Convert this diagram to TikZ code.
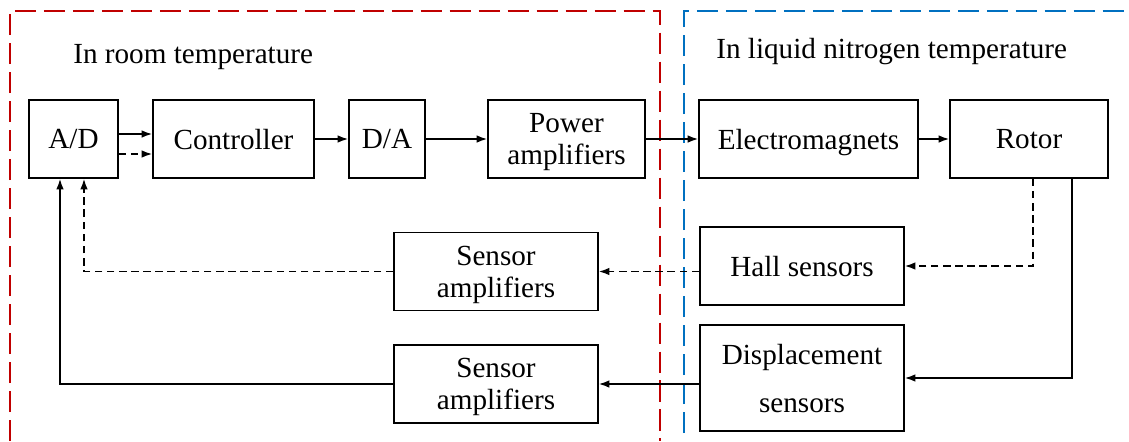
\documentclass[tikz,border=0pt]{standalone}
\usepackage{fontspec}
\setmainfont{Liberation Serif}
\usetikzlibrary{arrows.meta}
\definecolor{roomred}{RGB}{192,0,0}
\definecolor{lnblue}{RGB}{0,112,192}

\begin{document}
\begin{tikzpicture}[x=0.02cm,y=-0.02cm,font=\fontsize{16.6}{18.2}\selectfont,
  blk/.style={draw,line width=0.9pt,align=center,inner sep=0pt,text depth=0pt,minimum height=1.56cm},
  arr/.style={-{Latex[length=2.1mm,width=1.5mm]},line width=0.9pt},
  dsh/.style={dash pattern=on 4.3pt off 2.6pt},
  zone/.style={line width=1.5pt,dash pattern=on 12pt off 4.5pt}]
  \useasboundingbox (0,0) rectangle (1129,441);
  \draw[zone,roomred] (10,441) -- (10,11) -- (660,11) -- (660,441);
  \draw[zone,lnblue] (684,433) -- (684,11) -- (1129,11);
  \node[anchor=base west,inner sep=0pt] (room) at (73,63) {In room temperature};
  \node[anchor=base west,inner sep=0pt] (ln2) at (716,58) {In liquid nitrogen temperature};
  \node[blk,minimum width=1.78cm] (ad) at (73.5,139) {A/D};
  \node[blk,minimum width=3.22cm] (ctrl) at (233.5,139) {Controller};
  \node[blk,minimum width=1.52cm] (da) at (387,139) {D/A};
  \node[blk,minimum width=3.14cm] (pamp) at (566.5,139) {Power\\amplifiers};
  \node[blk,minimum width=4.38cm] (em) at (808.5,139) {Electromagnets};
  \node[blk,minimum width=3.16cm] (rotor) at (1029,139) {Rotor};
  \node[blk,minimum width=4.08cm] (hall) at (802,266) {Hall sensors};
  \node[blk,minimum width=4.08cm,minimum height=2.12cm] (disp) at (802,378) {Displacement\\[9pt]sensors};
  \node[blk,minimum width=4.08cm] (samp1) at (496,271.5) {Sensor\\amplifiers};
  \node[blk,minimum width=4.08cm] (samp2) at (496,384) {Sensor\\amplifiers};
  \draw[arr] ([yshift=0.1cm]ad.east) -- ([yshift=0.1cm]ctrl.west);
  \draw[arr,dsh] ([yshift=-0.3cm]ad.east) -- ([yshift=-0.3cm]ctrl.west);
  \draw[arr] (ctrl) -- (da); \draw[arr] (da) -- (pamp); \draw[arr] (pamp) -- (em); \draw[arr] (em) -- (rotor);
  \draw[arr,dsh] ([xshift=0.08cm]rotor.south) |- (hall.east);
  \draw[arr] ([xshift=0.86cm]rotor.south) |- (disp.east);
  \draw[arr,dsh] (hall.west |- samp1.east) -- (samp1.east);
  \draw[arr] (disp.west |- samp2.east) -- (samp2.east);
  \draw[arr,dsh] (samp1.west) -| ([xshift=0.21cm]ad.south);
  \draw[arr] (samp2.west) -| ([xshift=-0.27cm]ad.south);
\end{tikzpicture}
\end{document}
